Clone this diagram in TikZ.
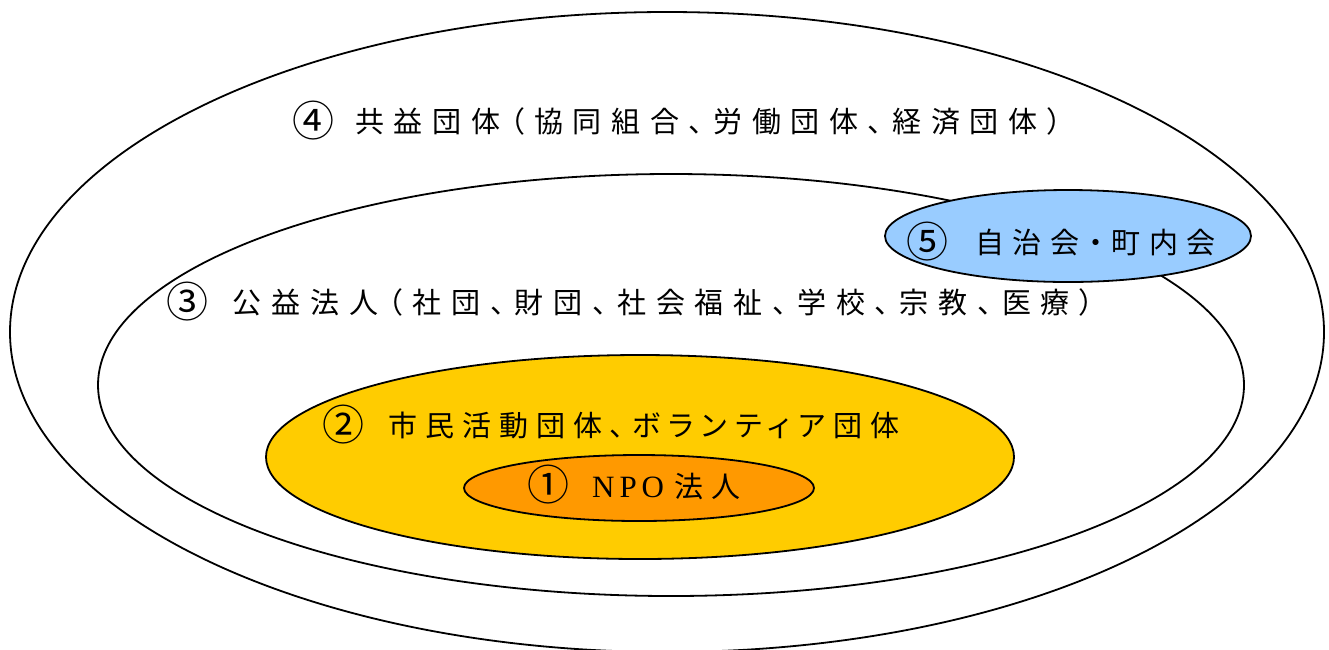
\documentclass[tikz,border=0pt]{standalone}
\usepackage{fontspec}
\usetikzlibrary{shapes.geometric}
\newfontfamily\jpa[LetterSpace=33.5,RawFeature=+palt]{Noto Sans CJK JP}
\newfontfamily\jpc[LetterSpace=34.3,RawFeature=+palt]{Noto Sans CJK JP}
\newfontfamily\jp[LetterSpace=30,RawFeature=+palt]{Noto Sans CJK JP}
\newfontfamily\jpb[LetterSpace=27.5,RawFeature=+palt]{Noto Sans CJK JP}
\newfontfamily\jpnum{Noto Sans CJK JP}
\newfontfamily\lat[LetterSpace=16]{Liberation Serif}
\definecolor{yel}{HTML}{FFCC00}
\definecolor{ora}{HTML}{FF9900}
\definecolor{blu}{HTML}{99CCFF}
\begin{document}
\begin{tikzpicture}[x=1pt,y=-1pt,
  ring/.style={ellipse,draw=black,line width=1.8pt,inner sep=0pt},
  num/.style={inner sep=0pt,font=\jpnum\fontsize{42}{42}\selectfont},
  lab/.style={anchor=west,inner sep=0pt,font=\fontsize{29}{29}\selectfont}]
\useasboundingbox (0,0) rectangle (1329,649);
\fill[white] (0,0) rectangle (1329,649);
\node[ring,minimum width=1314pt,minimum height=640pt] (e4) at (667,332) {};
\node[ring,minimum width=1146pt,minimum height=422pt] (e3) at (671,385) {};
\node[ring,fill=blu,minimum width=366pt,minimum height=92pt] (e5) at (1068,236) {};
\node[ring,fill=yel,minimum width=748pt,minimum height=204pt] (e2) at (640,457) {};
\node[ring,fill=ora,minimum width=350pt,minimum height=66pt] (e1) at (639,488) {};
\node[num] (d4) at (313,121) {④};
\node[lab] (t4) at (355,121) {\jpa 共益団体（協同組合、労働団体、経済団体）};
\node[num] (d3) at (187,302) {③};
\node[lab] (t3) at (232,302) {\jpc 公益法人（社団、財団、社会福祉、学校、宗教、医療）};
\node[num] (d5) at (927,242) {⑤};
\node[lab] (t5) at (975,242) {\jp 自治会・町内会};
\node[num] (d2) at (343,425) {②};
\node[lab] (t2) at (388,425) {\jpb 市民活動団体、ボランティア団体};
\node[num] (d1) at (548,485) {①};
\node[lab] (t1) at (592,486) {{\lat\fontsize{31}{31}\selectfont NPO}\hspace{10pt}\jp 法人};
\end{tikzpicture}
\end{document}
